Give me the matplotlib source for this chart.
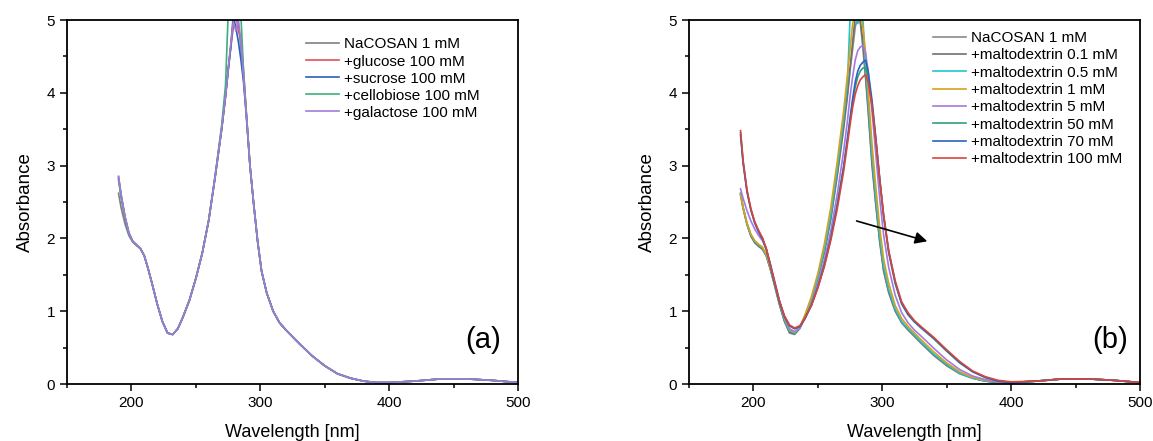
import matplotlib
matplotlib.use("Agg")
import matplotlib.pyplot as plt
from matplotlib.ticker import MultipleLocator

plt.rcParams['font.family'] = ['Liberation Sans', 'DejaVu Sans']

# shared wavelength grid [nm]
wl = [190, 192, 195, 198, 201, 204, 207, 210, 213, 216,
      220, 224, 228, 232, 236, 240, 245, 250, 255, 260,
      265, 270, 273, 275, 277, 279, 281, 283, 285, 287,
      289, 292, 295, 298, 301, 305, 310, 315, 320, 325,
      330, 340, 350, 360, 370, 380, 390, 400, 420, 440,
      460, 480, 500]

# ---- panel (a): sugars ----
a_nacosan = [2.62, 2.42, 2.20, 2.04, 1.95, 1.90, 1.86, 1.76, 1.58, 1.38,
             1.10, 0.86, 0.70, 0.68, 0.76, 0.92, 1.15, 1.45, 1.80, 2.25,
             2.85, 3.50, 3.95, 4.30, 4.60, 4.90, 5.05, 4.95, 4.60, 4.20,
             3.75, 3.00, 2.45, 1.95, 1.55, 1.25, 1.00, 0.84, 0.74, 0.65,
             0.56, 0.39, 0.25, 0.14, 0.08, 0.04, 0.02, 0.02, 0.04, 0.07,
             0.07, 0.05, 0.02]
a_glucose = [2.85, 2.60, 2.30, 2.08, 1.96, 1.91, 1.86, 1.76, 1.58, 1.38,
             1.10, 0.86, 0.70, 0.68, 0.76, 0.92, 1.15, 1.45, 1.80, 2.25,
             2.85, 3.50, 3.95, 4.30, 4.62, 4.95, 5.10, 4.85, 4.75, 4.30,
             3.78, 3.00, 2.45, 1.95, 1.55, 1.25, 1.00, 0.84, 0.74, 0.65,
             0.56, 0.39, 0.25, 0.14, 0.08, 0.04, 0.02, 0.02, 0.04, 0.07,
             0.07, 0.05, 0.02]
a_sucrose = [2.82, 2.58, 2.29, 2.07, 1.96, 1.91, 1.86, 1.76, 1.58, 1.38,
             1.10, 0.86, 0.70, 0.68, 0.76, 0.92, 1.15, 1.45, 1.80, 2.25,
             2.85, 3.50, 3.95, 4.30, 4.62, 5.05, 4.90, 4.70, 4.45, 4.15,
             3.72, 3.00, 2.45, 1.95, 1.55, 1.25, 1.00, 0.84, 0.74, 0.65,
             0.56, 0.39, 0.25, 0.14, 0.08, 0.04, 0.02, 0.02, 0.04, 0.07,
             0.07, 0.05, 0.02]
a_cellobiose = [2.80, 2.57, 2.28, 2.06, 1.96, 1.91, 1.86, 1.76, 1.58, 1.38,
                1.10, 0.86, 0.70, 0.68, 0.76, 0.92, 1.15, 1.45, 1.80, 2.25,
                2.87, 3.55, 4.10, 5.05, 5.20, 5.10, 5.00, 5.10, 5.05, 4.30,
                3.76, 3.00, 2.45, 1.95, 1.55, 1.25, 1.00, 0.84, 0.74, 0.65,
                0.56, 0.39, 0.25, 0.14, 0.08, 0.04, 0.02, 0.02, 0.04, 0.07,
                0.07, 0.05, 0.02]
a_galactose = [2.85, 2.60, 2.30, 2.08, 1.96, 1.91, 1.86, 1.76, 1.58, 1.38,
               1.10, 0.86, 0.70, 0.68, 0.76, 0.92, 1.15, 1.45, 1.80, 2.25,
               2.85, 3.50, 3.95, 4.30, 4.65, 4.98, 4.85, 5.00, 4.70, 4.22,
               3.75, 3.00, 2.45, 1.95, 1.55, 1.25, 1.00, 0.84, 0.74, 0.65,
               0.56, 0.39, 0.25, 0.14, 0.08, 0.04, 0.02, 0.02, 0.04, 0.07,
               0.07, 0.05, 0.02]

a_labels = ["NaCOSAN 1 mM", "+glucose 100 mM", "+sucrose 100 mM",
            "+cellobiose 100 mM", "+galactose 100 mM"]
a_series = [a_nacosan, a_glucose, a_sucrose, a_cellobiose, a_galactose]
a_colors = ["#808080", "#e0505a", "#2a5fbf", "#3cb07a", "#a07cd6"]

# ---- panel (b): maltodextrin ----
b_nacosan = [2.62, 2.42, 2.20, 2.04, 1.95, 1.90, 1.86, 1.76, 1.58, 1.38,
             1.10, 0.86, 0.70, 0.68, 0.76, 0.92, 1.15, 1.45, 1.80, 2.25,
             2.85, 3.50, 3.95, 4.30, 4.60, 4.90, 5.05, 4.95, 4.60, 4.20,
             3.75, 3.00, 2.45, 1.95, 1.55, 1.25, 1.00, 0.84, 0.74, 0.65,
             0.56, 0.39, 0.25, 0.14, 0.08, 0.04, 0.02, 0.02, 0.04, 0.07,
             0.07, 0.05, 0.02]
b_md01 = [2.60, 2.41, 2.19, 2.03, 1.94, 1.89, 1.85, 1.76, 1.59, 1.39,
          1.11, 0.87, 0.71, 0.69, 0.77, 0.93, 1.16, 1.46, 1.82, 2.28,
          2.88, 3.55, 4.00, 4.35, 4.70, 5.05, 5.10, 5.00, 4.70, 4.25,
          3.80, 3.05, 2.48, 1.97, 1.57, 1.27, 1.01, 0.85, 0.75, 0.66,
          0.57, 0.40, 0.26, 0.15, 0.08, 0.04, 0.02, 0.02, 0.04, 0.07,
          0.07, 0.05, 0.02]
b_md05 = [2.62, 2.43, 2.21, 2.05, 1.96, 1.91, 1.87, 1.77, 1.60, 1.40,
          1.13, 0.89, 0.73, 0.70, 0.77, 0.93, 1.16, 1.47, 1.85, 2.32,
          2.95, 3.65, 4.15, 5.05, 5.15, 5.05, 4.95, 5.10, 5.00, 4.35,
          3.90, 3.15, 2.55, 2.03, 1.62, 1.30, 1.03, 0.86, 0.76, 0.67,
          0.58, 0.41, 0.27, 0.15, 0.08, 0.04, 0.03, 0.02, 0.04, 0.07,
          0.07, 0.05, 0.02]
b_md1 = [2.60, 2.42, 2.21, 2.06, 1.97, 1.92, 1.88, 1.78, 1.61, 1.42,
         1.15, 0.91, 0.75, 0.71, 0.78, 0.95, 1.20, 1.52, 1.92, 2.42,
         3.05, 3.75, 4.25, 4.60, 4.95, 5.10, 5.05, 5.05, 4.90, 4.55,
         4.05, 3.30, 2.70, 2.15, 1.72, 1.38, 1.08, 0.90, 0.79, 0.70,
         0.61, 0.44, 0.29, 0.17, 0.09, 0.05, 0.03, 0.02, 0.04, 0.07,
         0.07, 0.05, 0.02]
b_md5 = [2.68, 2.55, 2.38, 2.24, 2.13, 2.04, 1.97, 1.85, 1.66, 1.45,
         1.16, 0.92, 0.76, 0.72, 0.77, 0.90, 1.10, 1.38, 1.70, 2.10,
         2.60, 3.20, 3.62, 3.95, 4.22, 4.45, 4.58, 4.63, 4.65, 4.55,
         4.30, 3.75, 3.15, 2.55, 2.05, 1.60, 1.22, 0.98, 0.84, 0.74,
         0.66, 0.49, 0.33, 0.20, 0.11, 0.06, 0.03, 0.02, 0.04, 0.07,
         0.07, 0.05, 0.02]
b_md50 = [3.45, 3.05, 2.65, 2.40, 2.22, 2.10, 2.00, 1.85, 1.64, 1.42,
          1.14, 0.93, 0.80, 0.76, 0.79, 0.90, 1.08, 1.33, 1.63, 2.00,
          2.45, 2.98, 3.35, 3.62, 3.88, 4.08, 4.22, 4.30, 4.34, 4.35,
          4.22, 3.85, 3.35, 2.80, 2.30, 1.80, 1.38, 1.10, 0.95, 0.85,
          0.77, 0.62, 0.45, 0.29, 0.17, 0.09, 0.04, 0.02, 0.04, 0.07,
          0.07, 0.05, 0.02]
b_md70 = [3.42, 3.03, 2.64, 2.39, 2.21, 2.09, 1.99, 1.85, 1.64, 1.42,
          1.14, 0.93, 0.80, 0.76, 0.79, 0.90, 1.08, 1.33, 1.63, 2.00,
          2.45, 2.98, 3.38, 3.65, 3.92, 4.15, 4.30, 4.38, 4.42, 4.45,
          4.30, 3.90, 3.38, 2.82, 2.32, 1.82, 1.40, 1.11, 0.96, 0.86,
          0.78, 0.63, 0.46, 0.30, 0.17, 0.09, 0.04, 0.02, 0.04, 0.07,
          0.07, 0.05, 0.02]
b_md100 = [3.48, 3.07, 2.67, 2.41, 2.23, 2.11, 2.01, 1.86, 1.65, 1.43,
           1.15, 0.94, 0.81, 0.77, 0.80, 0.91, 1.08, 1.32, 1.61, 1.97,
           2.40, 2.92, 3.30, 3.56, 3.80, 3.98, 4.10, 4.18, 4.22, 4.25,
           4.15, 3.82, 3.35, 2.82, 2.33, 1.83, 1.42, 1.13, 0.98, 0.87,
           0.79, 0.64, 0.47, 0.31, 0.18, 0.10, 0.05, 0.03, 0.04, 0.07,
           0.07, 0.05, 0.02]

b_labels = ["NaCOSAN 1 mM", "+maltodextrin 0.1 mM", "+maltodextrin 0.5 mM",
            "+maltodextrin 1 mM", "+maltodextrin 5 mM", "+maltodextrin 50 mM",
            "+maltodextrin 70 mM", "+maltodextrin 100 mM"]
b_series = [b_nacosan, b_md01, b_md05, b_md1, b_md5, b_md50, b_md70, b_md100]
b_colors = ["#8a8a8a", "#6f6f6f", "#22c4cc", "#d4a21c", "#a678e0",
            "#2f9f7f", "#2a62c0", "#d9443c"]

fig = plt.figure(figsize=(11.53, 4.41), dpi=100)
ax1 = fig.add_axes([67 / 1153, 57 / 441, 451 / 1153, 364 / 441])
ax2 = fig.add_axes([689 / 1153, 57 / 441, 451 / 1153, 364 / 441])


def style(ax):
    ax.set_xlim(150, 500)
    ax.set_ylim(0, 5)
    ax.xaxis.set_major_locator(MultipleLocator(100))
    ax.xaxis.set_minor_locator(MultipleLocator(50))
    ax.yaxis.set_major_locator(MultipleLocator(1))
    ax.yaxis.set_minor_locator(MultipleLocator(0.5))
    ax.tick_params(which='both', direction='out', top=False, right=False,
                   labelsize=11, width=1.1)
    ax.tick_params(which='major', length=5)
    ax.tick_params(which='minor', length=3)
    for sp in ax.spines.values():
        sp.set_linewidth(1.3)
    ax.set_xlabel("Wavelength [nm]", fontsize=13, labelpad=10)
    ax.set_ylabel("Absorbance", fontsize=13.5, labelpad=9)


for vals, lab, col in zip(a_series, a_labels, a_colors):
    ax1.plot(wl, vals, color=col, lw=1.2, label=lab)
for vals, lab, col in zip(b_series, b_labels, b_colors):
    ax2.plot(wl, vals, color=col, lw=1.2, label=lab)

style(ax1)
style(ax2)

ax1.legend(loc='upper left', bbox_to_anchor=(0.531, 0.952), frameon=False,
           fontsize=11, borderpad=0, borderaxespad=0, labelspacing=0.2,
           handlelength=2.15, handletextpad=0.33)
ax2.legend(loc='upper left', bbox_to_anchor=(0.541, 0.970), frameon=False,
           fontsize=11, borderpad=0, borderaxespad=0, labelspacing=0.22,
           handlelength=2.15, handletextpad=0.33)

ax1.text(0.922, 0.121, "(a)", transform=ax1.transAxes, fontsize=21,
         ha='center', va='center')
ax2.text(0.933, 0.121, "(b)", transform=ax2.transAxes, fontsize=21,
         ha='center', va='center')

# red-shift arrow
ax2.annotate("", xy=(337, 1.95), xytext=(278, 2.25),
             arrowprops=dict(arrowstyle='-|>', color='black', lw=1.2,
                             mutation_scale=18))

fig.savefig("out.png", dpi=100)
